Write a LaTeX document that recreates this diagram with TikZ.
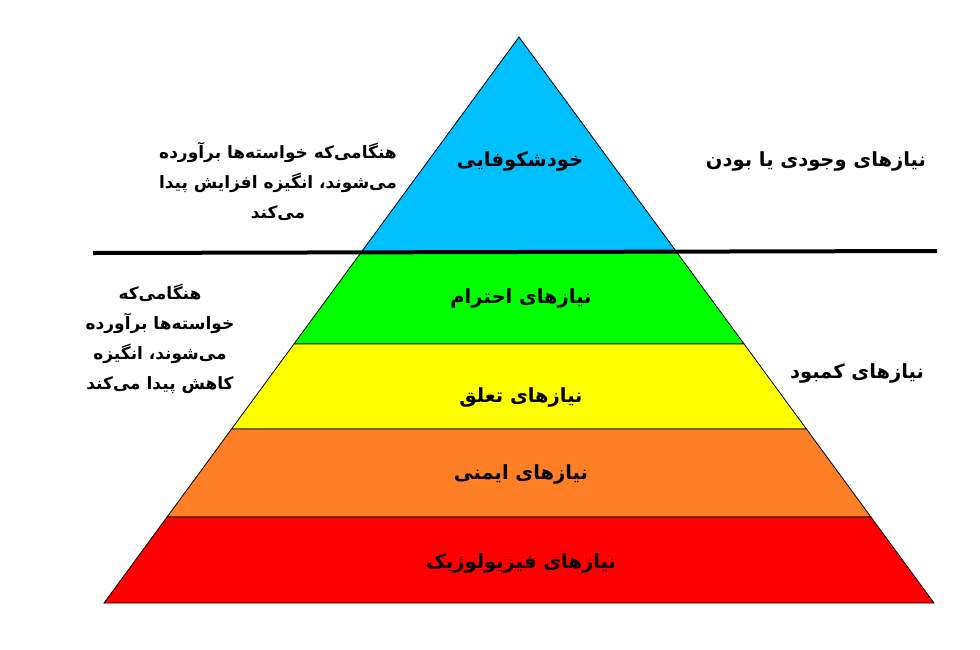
\documentclass[tikz,border=0pt]{standalone}
\usepackage{fontspec}
\newfontfamily\farsi[Script=Arabic]{DejaVu Sans}
\TeXXeTstate=1
\definecolor{topblue}{RGB}{0,191,255}
\definecolor{esteemgreen}{RGB}{0,255,0}
\definecolor{loveyellow}{RGB}{255,255,0}
\definecolor{safeorange}{RGB}{255,127,39}
\definecolor{bodyred}{RGB}{255,0,0}
\tikzset{
  band/.style={draw=black,line width=0.8pt},
  lab/.style={font=\farsi\bfseries\fontsize{19.5}{26}\selectfont,align=center,inner sep=0pt},
  side/.style={font=\farsi\bfseries\fontsize{17}{30}\selectfont,align=center,inner sep=0pt}
}
\begin{document}
\begin{tikzpicture}[x=1pt,y=-1pt]
            \useasboundingbox (0,0) rectangle (980,649);
            \foreach \ya \yb \col in {37/252/topblue,252/344/esteemgreen,344/429/loveyellow,429/517/safeorange,517/603/bodyred}
            \filldraw[band,fill=\col] ({519-0.7332*(\ya-37)},\ya) -- ({519+0.7332*(\ya-37)},\ya) -- ({519+0.7332*(\yb-37)},\yb) -- ({519-0.7332*(\yb-37)},\yb) -- cycle;
            \coordinate (ll) at (93,253);
            \coordinate (lr) at (937,251);
            \draw[line width=4pt] (ll) -- (lr);
            \node[lab] (self) at (520,161) {\beginR خودشکوفایی\endR};
            \node[lab] (esteem) at (521,298) {\beginR نیازهای احترام\endR};
            \node[lab] (love) at (521,397) {\beginR نیازهای تعلق\endR};
            \node[lab] (safe) at (521,474) {\beginR نیازهای ایمنی\endR};
            \node[lab] (body) at (521,563) {\beginR نیازهای فیزیولوژیک\endR};
            \node[lab] (being) at (816,161) {\beginR نیازهای وجودی یا بودن\endR};
            \node[lab] (deficit) at (857,373) {\beginR نیازهای کمبود\endR};
            \node[side] (up) at (278,181) {\beginR هنگامی^^^^200cکه خواسته^^^^200cها برآورده\endR\\\beginR می^^^^200cشوند، انگیزه افزایش پیدا\endR\\\beginR می^^^^200cکند\endR};
            \node[side] (down) at (160,339) {\beginR هنگامی^^^^200cکه\endR\\\beginR خواسته^^^^200cها برآورده\endR\\\beginR می^^^^200cشوند، انگیزه\endR\\\beginR کاهش پیدا می^^^^200cکند\endR};
        \end{tikzpicture}
\end{document}
